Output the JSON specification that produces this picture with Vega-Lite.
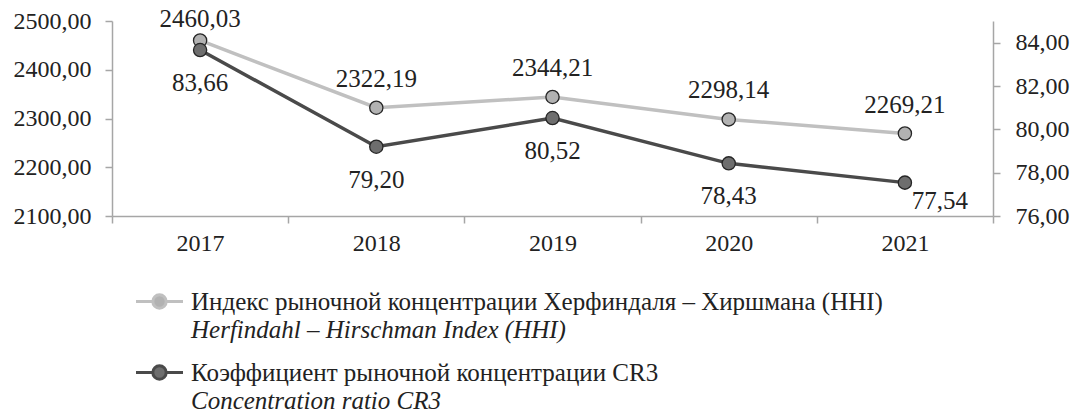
{
  "$schema": "https://vega.github.io/schema/vega-lite/v6.json",
  "width": 881,
  "height": 195,
  "autosize": {"type": "none"},
  "padding": {"left": 112, "top": 21, "right": 83, "bottom": 197},
  "background": "white",
  "config": {
    "locale": {"number": {"decimal": ",", "thousands": " ", "grouping": [3], "currency": ["", ""]}},
    "font": "Liberation Serif",
    "view": {"stroke": null},
    "axis": {"labelFont": "Liberation Serif", "labelFontSize": 24, "labelColor": "#222222", "domainColor": "#a6a6a6", "tickColor": "#a6a6a6", "domainWidth": 1.5, "tickWidth": 1.5, "tickSize": 7, "grid": false},
    "legend": {"labelFont": "Liberation Serif", "labelFontSize": 25, "labelColor": "#222222", "labelLimit": 900, "padding": 0},
    "text": {"font": "Liberation Serif"}
  },
  "data": {"values": [
    {"year": 2017, "code": "HHI", "series": "Индекс рыночной концентрации Херфиндаля – Хиршмана (HHI)", "name_en": "Herfindahl – Hirschman Index (HHI)", "value": 2460.03},
    {"year": 2018, "code": "HHI", "series": "Индекс рыночной концентрации Херфиндаля – Хиршмана (HHI)", "name_en": "Herfindahl – Hirschman Index (HHI)", "value": 2322.19},
    {"year": 2019, "code": "HHI", "series": "Индекс рыночной концентрации Херфиндаля – Хиршмана (HHI)", "name_en": "Herfindahl – Hirschman Index (HHI)", "value": 2344.21},
    {"year": 2020, "code": "HHI", "series": "Индекс рыночной концентрации Херфиндаля – Хиршмана (HHI)", "name_en": "Herfindahl – Hirschman Index (HHI)", "value": 2298.14},
    {"year": 2021, "code": "HHI", "series": "Индекс рыночной концентрации Херфиндаля – Хиршмана (HHI)", "name_en": "Herfindahl – Hirschman Index (HHI)", "value": 2269.21},
    {"year": 2017, "code": "CR3", "series": "Коэффициент рыночной концентрации CR3", "name_en": "Concentration ratio CR3", "value": 83.66},
    {"year": 2018, "code": "CR3", "series": "Коэффициент рыночной концентрации CR3", "name_en": "Concentration ratio CR3", "value": 79.20},
    {"year": 2019, "code": "CR3", "series": "Коэффициент рыночной концентрации CR3", "name_en": "Concentration ratio CR3", "value": 80.52},
    {"year": 2020, "code": "CR3", "series": "Коэффициент рыночной концентрации CR3", "name_en": "Concentration ratio CR3", "value": 78.43},
    {"year": 2021, "code": "CR3", "series": "Коэффициент рыночной концентрации CR3", "name_en": "Concentration ratio CR3", "value": 77.54}
  ]},
  "encoding": {
    "x": {"field": "year", "type": "ordinal", "title": null,
      "scale": {"type": "band", "paddingInner": 0, "paddingOuter": 0},
      "axis": {"tickBand": "extent", "labelAngle": 0, "labelPadding": 8}}
  },
  "layer": [
    {
      "transform": [{"filter": "datum.code == 'HHI'"}],
      "encoding": {
        "y": {"field": "value", "type": "quantitative", "title": null,
          "scale": {"domain": [2100, 2500], "nice": false, "zero": false},
          "axis": {"orient": "left", "values": [2100, 2200, 2300, 2400, 2500], "format": ".2f", "labelPadding": 14}}
      },
      "layer": [
        {"mark": {"type": "line", "strokeWidth": 3.5},
         "encoding": {"stroke": {"field": "series", "type": "nominal",
           "scale": {"domain": ["Индекс рыночной концентрации Херфиндаля – Хиршмана (HHI)", "Коэффициент рыночной концентрации CR3"], "range": ["#c0c0c0", "#4a4a4a"]},
           "legend": {"orient": "none", "legendX": 34, "legendY": 267, "title": null, "direction": "vertical",
             "symbolType": "M-2,0H-0.57M0.57,0H2M0.57,0A0.57,0.57,0,1,1,-0.57,0A0.57,0.57,0,1,1,0.57,0Z",
             "symbolSize": 552, "symbolStrokeWidth": 3, "labelOffset": 18, "rowPadding": 44}}}},
        {"mark": {"type": "point", "filled": true, "size": 175, "stroke": "#262626", "strokeWidth": 1.3, "opacity": 1},
         "encoding": {
           "fill": {"field": "series", "type": "nominal",
             "scale": {"domain": ["Индекс рыночной концентрации Херфиндаля – Хиршмана (HHI)", "Коэффициент рыночной концентрации CR3"], "range": ["#b2b2b2", "#6e6e6e"]},
             "legend": {"orient": "none", "legendX": 34, "legendY": 267, "title": null, "direction": "vertical",
               "symbolType": "M-2,0H-0.57M0.57,0H2M0.57,0A0.57,0.57,0,1,1,-0.57,0A0.57,0.57,0,1,1,0.57,0Z",
               "symbolSize": 552, "symbolStrokeWidth": 3, "labelOffset": 18, "rowPadding": 44}},
           "shape": {"field": "name_en", "type": "nominal",
             "scale": {"domain": ["Herfindahl – Hirschman Index (HHI)", "Concentration ratio CR3"], "range": ["circle", "circle"]},
             "legend": {"orient": "none", "legendX": 34, "legendY": 295, "title": null, "direction": "vertical",
               "symbolSize": 552, "symbolStrokeWidth": 3, "symbolOpacity": 0, "labelOffset": 18, "rowPadding": 44, "labelFontStyle": "italic"}}
         }},
        {"transform": [{"filter": "datum.year != 2017"}],
         "mark": {"type": "text", "dy": -29, "fontSize": 25, "color": "#222222"},
         "encoding": {"text": {"field": "value", "type": "quantitative", "format": ".2f"}}},
        {"transform": [{"filter": "datum.year == 2017"}],
         "mark": {"type": "text", "dy": -21, "fontSize": 25, "color": "#222222"},
         "encoding": {"text": {"field": "value", "type": "quantitative", "format": ".2f"}}}
      ]
    },
    {
      "transform": [{"filter": "datum.code == 'CR3'"}],
      "encoding": {
        "y": {"field": "value", "type": "quantitative", "title": null,
          "scale": {"domain": [76, 85], "nice": false, "zero": false},
          "axis": {"orient": "right", "values": [76, 78, 80, 82, 84], "format": ".2f", "labelPadding": 15}}
      },
      "layer": [
        {"mark": {"type": "line", "strokeWidth": 3.5},
         "encoding": {"stroke": {"field": "series", "type": "nominal"}}},
        {"mark": {"type": "point", "filled": true, "size": 175, "stroke": "#262626", "strokeWidth": 1.3, "opacity": 1},
         "encoding": {"fill": {"field": "series", "type": "nominal"},
           "shape": {"field": "name_en", "type": "nominal"}}},
        {"transform": [{"filter": "datum.year != 2021"}],
         "mark": {"type": "text", "dy": 33, "fontSize": 25, "color": "#222222"},
         "encoding": {"text": {"field": "value", "type": "quantitative", "format": ".2f"}}},
        {"transform": [{"filter": "datum.year == 2021"}],
         "mark": {"type": "text", "dx": 35, "dy": 18, "fontSize": 25, "color": "#222222"},
         "encoding": {"text": {"field": "value", "type": "quantitative", "format": ".2f"}}}
      ]
    }
  ],
  "resolve": {"scale": {"y": "independent"}}
}
